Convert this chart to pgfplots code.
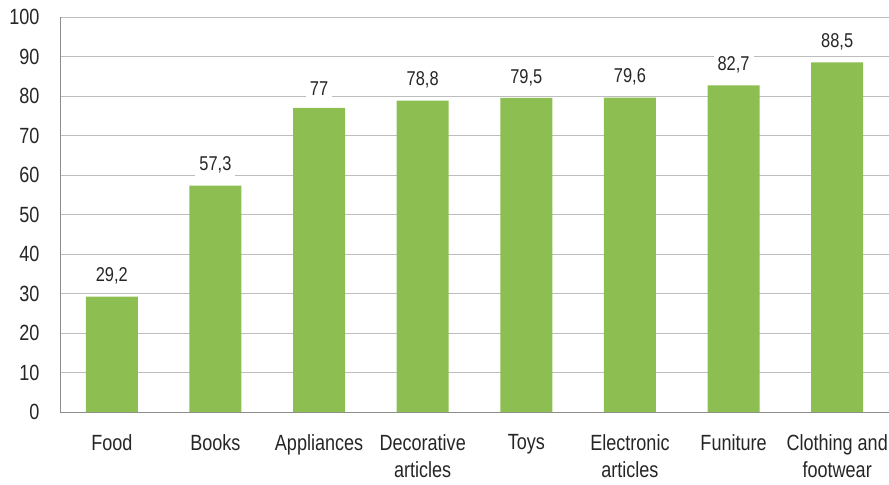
\documentclass[border=0pt]{standalone}
\usepackage{pgfplots}
\pgfplotsset{compat=1.18}
\usepackage{fontspec}
\setmainfont[FakeStretch=0.82]{Liberation Sans}
\definecolor{barg}{HTML}{8DBE52}
\definecolor{gridc}{HTML}{BDBDBD}
\definecolor{axc}{HTML}{8C8C8C}
\definecolor{txt}{HTML}{262626}
\begin{document}
\begin{tikzpicture}
\begin{axis}[
  name=ax,
  scale only axis,
  width=829pt, height=395pt,
  xmin=-0.5, xmax=7.5, ymin=0, ymax=100,
  ytick={0,10,...,100},
  xtick=data,
  xticklabels={Food,Books,Appliances,Decorative\\articles,Toys,Electronic\\articles,Funiture,Clothing and\\footwear},
  xticklabel style={align=center, font=\fontsize{22}{27}\selectfont, text=txt, yshift=-19pt},
  yticklabel style={font=\fontsize{22}{24}\selectfont, text=txt, xshift=-17pt},
  /pgf/number format/assume math mode=true,
  major tick length=0pt,
  ymajorgrids, grid style={gridc, line width=0.8pt},
  axis line style={axc, line width=0.9pt},
  axis x line*=bottom, axis y line*=left,
  x axis line style={-}, y axis line style={-},
  ybar, bar width=52pt,
  nodes near coords,
  point meta=explicit symbolic,
  every node near coord/.append style={font=\fontsize{20}{22}\selectfont, text=txt, fill=white, inner sep=4pt, yshift=8pt},
  clip=false,
]
\addplot[fill=barg, draw=none] table[meta=lab] {
x y lab
0 29.2 29,2
1 57.3 57,3
2 77 77
3 78.8 78,8
4 79.5 79,5
5 79.6 79,6
6 82.7 82,7
7 88.5 88,5
};
\end{axis}
\pgfresetboundingbox
\path[use as bounding box] (ax.south west) ++(-60pt,-72pt) rectangle ([yshift=17pt]ax.north east);
\end{tikzpicture}
\end{document}
